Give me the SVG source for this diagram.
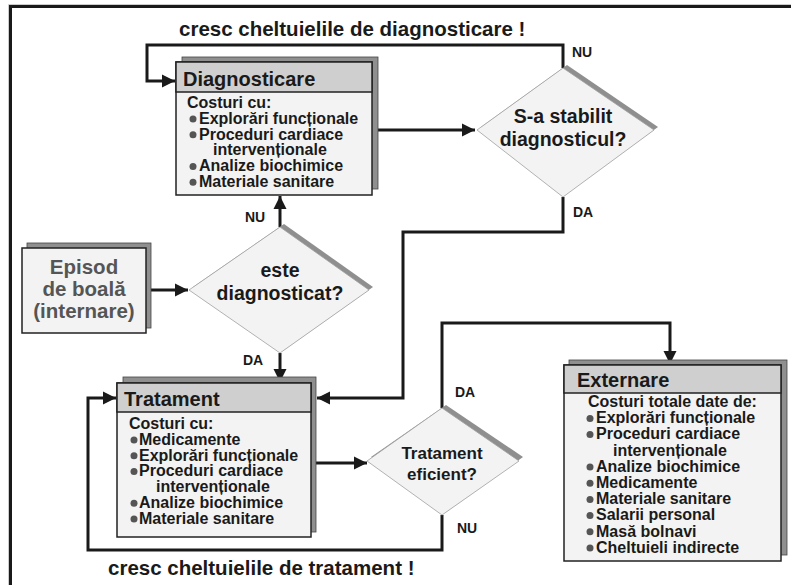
<svg xmlns="http://www.w3.org/2000/svg" width="791" height="585" viewBox="0 0 791 585">
<defs>
<style>
text{font-family:"Liberation Sans",Arial,sans-serif;font-weight:bold;fill:#1a1a1a}
.hdr{font-size:20px}
.body{font-size:16px}
.lbl{font-size:14px}
.big{font-size:20.5px}
.dia{font-size:19.5px;text-anchor:middle}
.sh{fill:#8f8f8f;stroke:#444;stroke-width:0.8}
.hd{fill:#cfcfcf;stroke:#222;stroke-width:1.5}
.bd{fill:#f3f3f3;stroke:#222;stroke-width:1.5}
.dsh{fill:#8f8f8f}
.dm{fill:#f3f3f3;stroke:#a0a0a0;stroke-width:0.8}
.bul{fill:#555}
.con{fill:none;stroke:#1a1a1a;stroke-width:3}
</style>
<marker id="ah" viewBox="0 0 10 10" refX="10" refY="5" markerWidth="4.4" markerHeight="4.4" orient="auto" markerUnits="strokeWidth">
<path d="M0,0 L10,5 L0,10 z" fill="#1a1a1a"/>
</marker>
</defs>
<rect width="791" height="585" fill="#ffffff"/>
<g id="frame">
<path d="M8.5,585 V4.5 H791" fill="none" stroke="#cccccc" stroke-width="1"/>
<path d="M10.5,585 V6.5 H791" fill="none" stroke="#1a1a1a" stroke-width="3"/>
</g>

<g id="connectors">
<polyline class="con" points="563,68 563,45 147,45 147,81 175,81" marker-end="url(#ah)"/>
<polyline class="con" points="373,130 475,130" marker-end="url(#ah)"/>
<polyline class="con" points="563,197 563,232 403,232 403,398 317,398" marker-end="url(#ah)"/>
<polyline class="con" points="147,290 188,290" marker-end="url(#ah)"/>
<polyline class="con" points="280,227 280,196" marker-end="url(#ah)"/>
<polyline class="con" points="280,353 280,382" marker-end="url(#ah)"/>
<polyline class="con" points="312,463 367,463" marker-end="url(#ah)"/>
<polyline class="con" points="442,408 442,323 670,323 670,364" marker-end="url(#ah)"/>
<polyline class="con" points="442,515 442,550 88,550 88,398 116,398" marker-end="url(#ah)"/>
<text class="big" x="179" y="36">cresc cheltuielile de diagnosticare !</text>
<text class="big" x="108" y="575">cresc cheltuielile de tratament !</text>
<text class="lbl" x="572" y="57">NU</text>
<text class="lbl" x="573" y="217">DA</text>
<text class="lbl" x="245" y="222">NU</text>
<text class="lbl" x="243" y="365">DA</text>
<text class="lbl" x="455" y="397">DA</text>
<text class="lbl" x="457" y="533">NU</text>
</g>

<g id="diagnosticare">
<rect class="sh" x="182" y="57" width="196" height="132"/>
<rect class="bd" x="176" y="62" width="196" height="133"/>
<rect class="hd" x="176" y="62" width="196" height="30"/>
<text class="hdr" x="183" y="86">Diagnosticare</text>
<g class="body">
<text x="187" y="108">Costuri cu:</text>
<circle class="bul" cx="193" cy="119" r="3.5"/><text x="199" y="123.8">Explorări funcționale</text>
<circle class="bul" cx="193" cy="134.8" r="3.5"/><text x="199" y="139.6">Proceduri cardiace</text>
<text x="213" y="155.4">intervenționale</text>
<circle class="bul" cx="193" cy="166.4" r="3.5"/><text x="199" y="171.2">Analize biochimice</text>
<circle class="bul" cx="193" cy="182.2" r="3.5"/><text x="199" y="187">Materiale sanitare</text>
</g>
</g>

<g id="stabilit">
<polygon class="dsh" points="567,65 658,127 567,193 481,127"/>
<polygon class="dm" points="563,68 654,130 563,197 477,130"/>
<text class="dia" x="563" y="123">S-a stabilit</text>
<text class="dia" x="563" y="146">diagnosticul?</text>
</g>

<g id="episod">
<rect class="sh" x="27" y="243" width="124" height="85"/>
<rect class="bd" x="22" y="248" width="124" height="85"/>
<text x="84" y="274" style="font-size:20.5px;fill:#555;text-anchor:middle">Episod</text>
<text x="84" y="296" style="font-size:20.5px;fill:#555;text-anchor:middle">de boală</text>
<text x="84" y="318" style="font-size:20.5px;fill:#555;text-anchor:middle">(internare)</text>
</g>

<g id="este">
<polygon class="dsh" points="284,224 373,287 284,350 193,287"/>
<polygon class="dm" points="280,227 369,290 280,353 189,290"/>
<text class="dia" x="280" y="277">este</text>
<text class="dia" x="280" y="300">diagnosticat?</text>
</g>

<g id="tratament">
<rect class="sh" x="123" y="377" width="193" height="155"/>
<rect class="bd" x="117" y="383" width="194" height="154"/>
<rect class="hd" x="117" y="383" width="194" height="29"/>
<text class="hdr" x="124" y="406">Tratament</text>
<g class="body">
<text x="129" y="429">Costuri cu:</text>
<circle class="bul" cx="134" cy="440" r="3.5"/><text x="139" y="444.8">Medicamente</text>
<circle class="bul" cx="134" cy="455.8" r="3.5"/><text x="139" y="460.6">Explorări funcționale</text>
<circle class="bul" cx="134" cy="471.6" r="3.5"/><text x="139" y="476.4">Proceduri cardiace</text>
<text x="156" y="492.2">intervenționale</text>
<circle class="bul" cx="134" cy="503.2" r="3.5"/><text x="139" y="508">Analize biochimice</text>
<circle class="bul" cx="134" cy="519" r="3.5"/><text x="139" y="523.8">Materiale sanitare</text>
</g>
</g>

<g id="eficient">
<polygon class="dsh" points="446,405 523,457 446,512 371,457"/>
<polygon class="dm" points="442,408 519,461 442,515 367,461"/>
<text class="dia" x="442" y="459" style="font-size:17px">Tratament</text>
<text class="dia" x="442" y="480" style="font-size:17px">eficient?</text>
</g>

<g id="externare">
<rect class="sh" x="569" y="360" width="218" height="195"/>
<rect class="bd" x="564" y="365" width="217" height="196"/>
<rect class="hd" x="564" y="365" width="217" height="28"/>
<text class="hdr" x="577" y="387">Externare</text>
<g class="body">
<text x="588" y="407">Costuri totale date de:</text>
<circle class="bul" cx="590" cy="418.4" r="3.5"/><text x="596" y="423.2">Explorări funcționale</text>
<circle class="bul" cx="590" cy="434.6" r="3.5"/><text x="596" y="439.4">Proceduri cardiace</text>
<text x="613" y="455.6">intervenționale</text>
<circle class="bul" cx="590" cy="467" r="3.5"/><text x="596" y="471.8">Analize biochimice</text>
<circle class="bul" cx="590" cy="483.2" r="3.5"/><text x="596" y="488">Medicamente</text>
<circle class="bul" cx="590" cy="499.4" r="3.5"/><text x="596" y="504.2">Materiale sanitare</text>
<circle class="bul" cx="590" cy="515.6" r="3.5"/><text x="596" y="520.4">Salarii personal</text>
<circle class="bul" cx="590" cy="531.8" r="3.5"/><text x="596" y="536.6">Masă bolnavi</text>
<circle class="bul" cx="590" cy="548" r="3.5"/><text x="596" y="552.8">Cheltuieli indirecte</text>
</g>
</g>
</svg>
